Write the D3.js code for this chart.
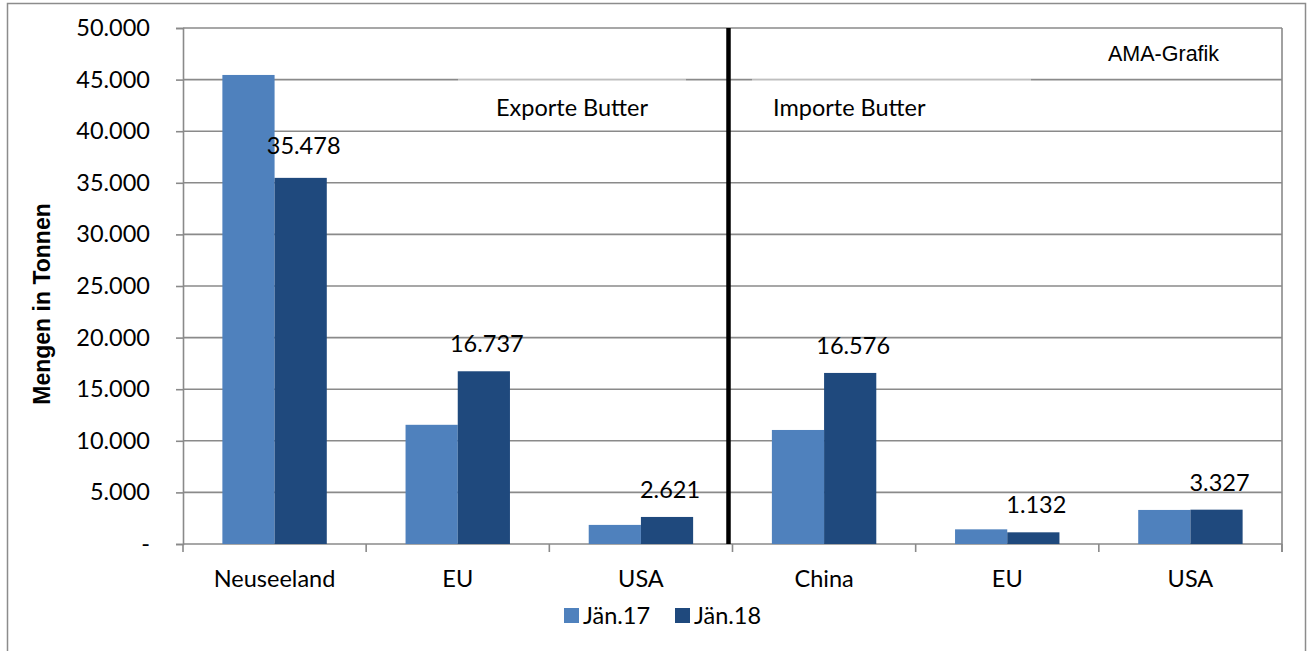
<!DOCTYPE html>
<html>
<head>
<meta charset="utf-8">
<script src="https://cdn.jsdelivr.net/npm/d3@7"></script>
<style>
  body { margin: 0; background: #fff; }
  text { font-family: Lato, "Noto Sans", sans-serif; fill: #000; }
</style>
</head>
<body>
<script>
var categories = ["Neuseeland", "EU", "USA", "China", "EU", "USA"];
var series = ["Jän.17", "Jän.18"];
var jan17 = [45450, 11550, 1850, 11050, 1420, 3300];
var jan18 = [35478, 16737, 2621, 16576, 1132, 3327];
var yTicks = [0, 5000, 10000, 15000, 20000, 25000, 30000, 35000, 40000, 45000, 50000];
var sectionTitles = ["Exporte Butter", "Importe Butter"];

var width = 1313;
var height = 651;
// plot area
var plot = { left: 183, right: 1282, top: 28, bottom: 544 };
var colors = ["#4f81bd", "#1f497d"];
var gridColor = "#8a8a8a";
var fs = 23.5;

var de = d3.formatLocale({ decimal: ",", thousands: ".", grouping: [3], currency: ["", "€"] });
var fmt = de.format(",.0f");

var svg = d3.select("body").append("svg")
  .attr("width", width)
  .attr("height", height);

// outer frame
svg.append("rect")
  .attr("x", 7.5).attr("y", 3.5)
  .attr("width", 1298).attr("height", 700)
  .attr("fill", "#fff")
  .attr("stroke", "#8c8c8c")
  .attr("stroke-width", 1.5);

var x = d3.scaleBand()
  .domain(d3.range(categories.length))
  .range([plot.left, plot.right])
  .paddingInner(0.43)
  .paddingOuter(0.215);

var xs = d3.scaleBand()
  .domain(series)
  .range([0, x.bandwidth()]);

var y = d3.scaleLinear()
  .domain([0, 50000])
  .range([plot.bottom, plot.top]);

// gridlines
svg.append("g")
  .selectAll("line")
  .data(yTicks.slice(1))
  .enter()
  .append("line")
  .attr("x1", plot.left).attr("x2", plot.right)
  .attr("y1", function(d) { return y(d); })
  .attr("y2", function(d) { return y(d); })
  .attr("stroke", gridColor)
  .attr("stroke-width", 1.6);

// text boxes lighten the gridline below them
var boxes = [[458, 686], [752, 1031]];
svg.append("g")
  .selectAll("rect")
  .data(boxes)
  .enter()
  .append("rect")
  .attr("x", function(d) { return d[0]; })
  .attr("width", function(d) { return d[1] - d[0]; })
  .attr("y", y(45000) - 1)
  .attr("height", 48)
  .attr("fill", "#fff")
  .attr("opacity", 0.45);

// right border of plot
svg.append("line")
  .attr("x1", plot.right).attr("x2", plot.right)
  .attr("y1", plot.top).attr("y2", plot.bottom + 8)
  .attr("stroke", gridColor)
  .attr("stroke-width", 1.6);

// y axis
var yAxis = d3.axisLeft(y)
  .tickValues(yTicks)
  .tickSize(7)
  .tickPadding(26)
  .tickFormat(function(d) { return d === 0 ? "-" : fmt(d); });

var gy = svg.append("g")
  .attr("transform", "translate(" + plot.left + ",0)")
  .call(yAxis);
gy.select(".domain").attr("stroke", gridColor).attr("stroke-width", 1.6);
gy.selectAll(".tick line").attr("stroke", gridColor).attr("stroke-width", 1.6);
gy.selectAll(".tick text")
  .attr("font-family", null)
  .attr("font-size", fs)
  .attr("fill", "#000");

// x axis: baseline, ticks at category boundaries, labels
var step = x.step();
var bounds = d3.range(categories.length + 1).map(function(i) { return plot.left + i * step; });

svg.append("line")
  .attr("x1", plot.left).attr("x2", plot.right)
  .attr("y1", plot.bottom).attr("y2", plot.bottom)
  .attr("stroke", gridColor)
  .attr("stroke-width", 1.6);

svg.append("g")
  .selectAll("line")
  .data(bounds)
  .enter()
  .append("line")
  .attr("x1", function(d) { return d; })
  .attr("x2", function(d) { return d; })
  .attr("y1", plot.bottom)
  .attr("y2", plot.bottom + 8)
  .attr("stroke", gridColor)
  .attr("stroke-width", 1.6);

svg.append("g")
  .selectAll("text")
  .data(categories)
  .enter()
  .append("text")
  .attr("x", function(d, i) { return x(i) + x.bandwidth() / 2; })
  .attr("y", 587)
  .attr("text-anchor", "middle")
  .attr("font-size", fs)
  .text(function(d) { return d; });

// bars
var rows = categories.map(function(c, i) { return { i: i, values: [jan17[i], jan18[i]] }; });

var groups = svg.append("g")
  .selectAll("g")
  .data(rows)
  .enter()
  .append("g")
  .attr("transform", function(d) { return "translate(" + x(d.i) + ",0)"; });

groups.selectAll("rect")
  .data(function(d) { return d.values; })
  .enter()
  .append("rect")
  .attr("x", function(d, j) { return xs(series[j]); })
  .attr("width", xs.bandwidth())
  .attr("y", function(d) { return y(d); })
  .attr("height", function(d) { return y(0) - y(d); })
  .attr("fill", function(d, j) { return colors[j]; });

// value labels on Jän.18
groups.append("text")
  .attr("x", function(d) { return xs(series[1]) + xs.bandwidth() / 2 + 3; })
  .attr("y", function(d) { return y(d.values[1]) - (d.i === 0 ? 24 : 19); })
  .attr("text-anchor", "middle")
  .attr("font-size", fs)
  .text(function(d) { return fmt(d.values[1]); });

// separator between exports and imports
var sepX = x(3) - step * 0.215 - 4;
svg.append("line")
  .attr("x1", sepX).attr("x2", sepX)
  .attr("y1", plot.top).attr("y2", plot.bottom)
  .attr("stroke", "#000")
  .attr("stroke-width", 4.5);

// section titles
svg.append("text")
  .attr("x", 572).attr("y", 116)
  .attr("text-anchor", "middle")
  .attr("font-size", fs)
  .text(sectionTitles[0]);
svg.append("text")
  .attr("x", 773).attr("y", 116)
  .attr("font-size", fs)
  .text(sectionTitles[1]);

svg.append("text")
  .attr("x", 1108).attr("y", 61)
  .style("font-family", "'Liberation Sans', Arial, sans-serif")
  .attr("font-size", 21.5)
  .text("AMA-Grafik");

// y title
svg.append("text")
  .attr("transform", "translate(50,304) rotate(-90)")
  .attr("text-anchor", "middle")
  .style("font-family", "'Liberation Sans', Arial, sans-serif")
  .attr("font-weight", "bold")
  .attr("font-size", 23)
  .text("Mengen in Tonnen");

// legend
var legend = svg.append("g")
  .selectAll("g")
  .data(series)
  .enter()
  .append("g")
  .attr("transform", function(d, i) { return "translate(" + (564 + i * 111) + ",608)"; });
legend.append("rect")
  .attr("width", 15).attr("height", 15)
  .attr("fill", function(d, i) { return colors[i]; });
legend.append("text")
  .attr("x", 19).attr("y", 16)
  .attr("font-size", fs)
  .text(function(d) { return d; });
</script>
</body>
</html>
